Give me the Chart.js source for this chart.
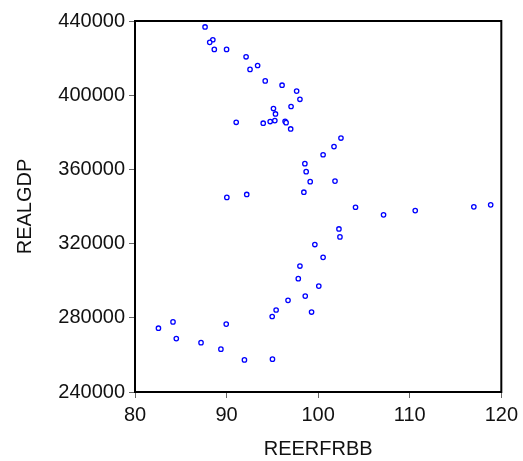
<!DOCTYPE html>
<html>
<head>
<meta charset="utf-8">
<script src="https://cdn.jsdelivr.net/npm/chart.js@4/dist/chart.umd.min.js"></script>
<style>
  html, body { margin: 0; padding: 0; background: #fff; }
  #wrap { width: 523px; height: 461px; }
</style>
</head>
<body>
<div id="wrap"><canvas id="chart" width="523" height="461"></canvas></div>
<script>
const X_TITLE = 'REERFRBB';
const Y_TITLE = 'REALGDP';
const X_TICKS = [80, 90, 100, 110, 120];
const Y_TICKS = [240000, 280000, 320000, 360000, 400000, 440000];

// REERFRBB values
const reerfrbb = [
  87.65, 88.5, 88.16, 88.66, 90.0, 92.13, 93.39, 92.56, 94.22, 96.06, 97.65,
  98.01, 97.04, 95.12, 95.34, 91.05, 94.0, 94.76, 95.27, 96.39, 96.5, 97.0,
  102.49, 101.73, 100.54, 98.55, 98.69, 99.13, 101.84, 98.44, 90.03, 92.2,
  104.08, 102.27, 102.38, 99.64, 100.54, 98.01,
  107.14, 110.6, 117.0, 118.84,
  97.83, 100.07, 98.59, 96.71, 95.41, 94.98, 99.28, 82.56, 84.15, 84.51,
  89.96, 87.21, 89.38, 91.95, 95.01
];
// REALGDP values
const realgdp = [
  436800, 429900, 428500, 424700, 424700, 420700, 416000, 413900, 407700, 405400, 402200,
  397800, 393900, 392800, 389900, 385400, 384900, 385800, 386300, 385900, 385200, 381800,
  376900, 372300, 367900, 363100, 358800, 353400, 353700, 347700, 344900, 346500,
  339600, 327900, 323600, 319500, 312600, 307900,
  335500, 337800, 339800, 340900,
  301100, 297100, 291700, 289400, 284200, 280700, 283100, 274400, 277800, 268800,
  276600, 266600, 263100, 257300, 257700
];

const points = reerfrbb.map((x, i) => ({ x: x, y: realgdp[i] }));

// box round the plot area
const frame = {
  id: 'frame',
  afterDraw(chart) {
    const a = chart.chartArea;
    const ctx = chart.ctx;
    ctx.save();
    ctx.strokeStyle = '#000';
    ctx.lineWidth = 2;
    ctx.strokeRect(a.left, a.top, a.right - a.left, a.bottom - a.top);
    ctx.restore();
  }
};

const font = { family: 'Liberation Sans, Arial, sans-serif', size: 20 };

new Chart(document.getElementById('chart'), {
  type: 'scatter',
  data: {
    datasets: [{
      data: points,
      pointStyle: 'circle',
      pointRadius: 2.2,
      pointBorderWidth: 1.3,
      pointBorderColor: '#0000ff',
      pointBackgroundColor: '#ffffff',
    }]
  },
  options: {
    responsive: false,
    animation: false,
    layout: { padding: { top: 21, right: 17, left: 0, bottom: 0 } },
    plugins: { legend: { display: false }, tooltip: { enabled: false } },
    scales: {
      x: {
        type: 'linear',
        min: X_TICKS[0],
        max: X_TICKS[X_TICKS.length - 1],
        afterBuildTicks: (axis) => { axis.ticks = X_TICKS.map(v => ({ value: v })); },
        grid: { drawOnChartArea: false, tickLength: 6, color: '#666', lineWidth: 1 },
        border: { display: false },
        ticks: { color: '#111', font: font, padding: 5, maxRotation: 0 },
        title: { display: true, text: X_TITLE, color: '#111', font: font, padding: { top: 6, bottom: 0 } },
        afterFit: (axis) => { axis.height = 69; }
      },
      y: {
        type: 'linear',
        min: Y_TICKS[0],
        max: Y_TICKS[Y_TICKS.length - 1],
        afterBuildTicks: (axis) => { axis.ticks = Y_TICKS.map(v => ({ value: v })); },
        grid: { drawOnChartArea: false, tickLength: 6, color: '#666', lineWidth: 1 },
        border: { display: false },
        ticks: { color: '#111', font: font, padding: 4, callback: (v) => String(v) },
        title: { display: true, text: Y_TITLE, color: '#111', font: font, padding: { top: 13, bottom: 4 } },
        afterFit: (axis) => { axis.width = 135; }
      }
    }
  },
  plugins: [frame]
});
</script>
</body>
</html>
